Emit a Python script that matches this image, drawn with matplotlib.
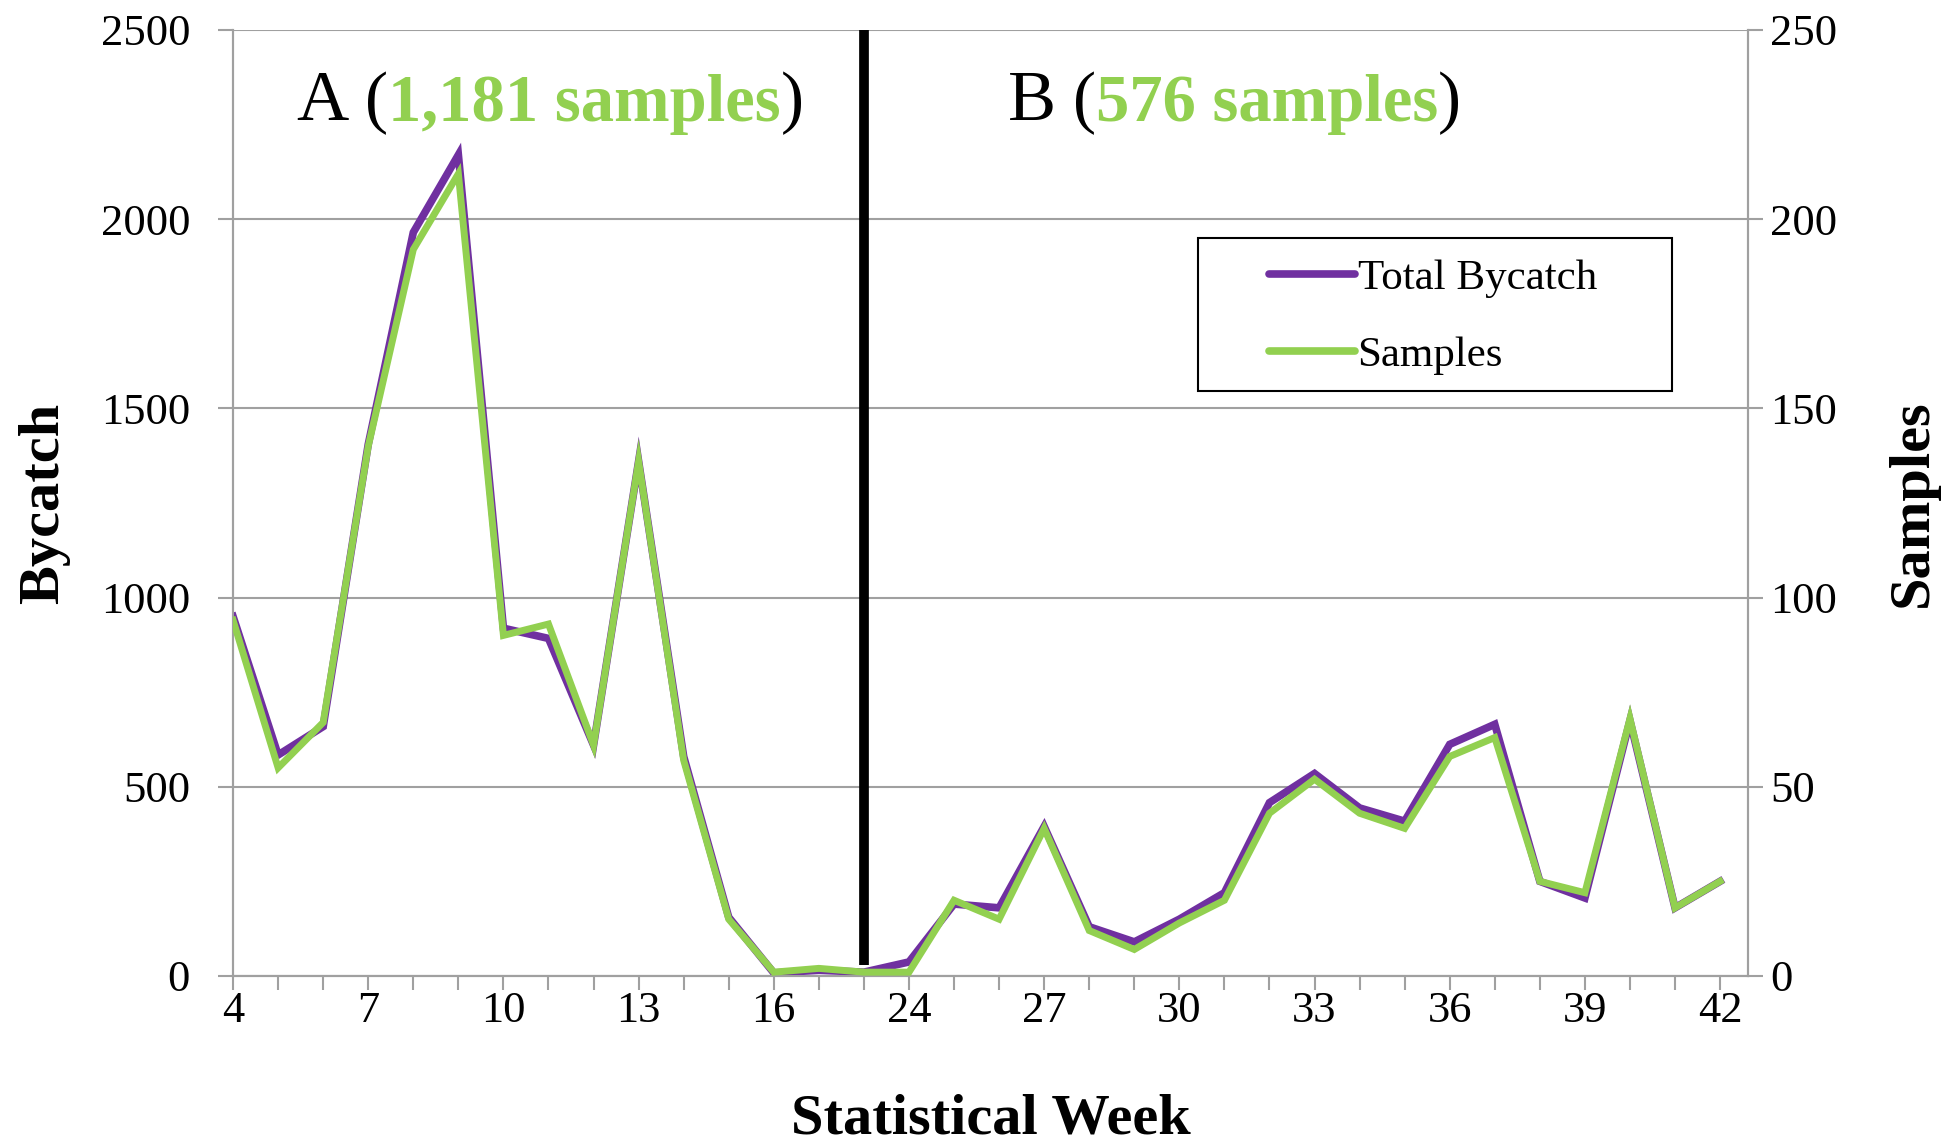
import matplotlib
matplotlib.use("Agg")
import matplotlib.pyplot as plt
from matplotlib.lines import Line2D
from matplotlib.patches import Rectangle

plt.rcParams['font.family'] = ['Liberation Serif', 'DejaVu Serif']

# datos
weeks = [4, 5, 6, 7, 8, 9, 10, 11, 12, 13, 14, 15, 16, 17, 18,
         24, 25, 26, 27, 28, 29, 30, 31, 32, 33, 34, 35, 36, 37, 38, 39, 40, 41, 42]
bycatch = [950, 584, 659, 1405, 1965, 2170, 919, 892, 610, 1360, 580, 155, 8, 15, 10,
           37, 190, 180, 395, 130, 90, 150, 220, 458, 535, 444, 409, 612, 665, 250, 206, 675, 180, 250]
samples = [94, 55, 67, 140, 192, 212, 90, 93, 61, 136, 57, 15, 1, 2, 1,
           1, 20, 15, 39, 12, 7, 14, 20, 43, 52, 43, 39, 58, 63, 25, 22, 68, 18, 25]
split_week = 18
period_labels = [("A", "1,181 samples"), ("B", "576 samples")]

PURPLE = '#7030A0'
GREEN = '#92D050'
GRID = '#A0A0A0'

fig = plt.figure(figsize=(19.52, 11.44), dpi=100)
ax = fig.add_axes([0.1194, 0.1469, 0.8955 - 0.1194, 0.9738 - 0.1469])
ax2 = ax.twinx()

x = list(range(len(weeks)))
ax.plot(x, bycatch, color=PURPLE, linewidth=5.5, solid_joinstyle='miter', zorder=3)
ax2.plot(x, samples, color=GREEN, linewidth=5, solid_joinstyle='miter', zorder=3)

ax.set_xlim(0, len(weeks) - 1 + 0.62)
ax.set_ylim(0, 2500)
ax2.set_ylim(0, 250)
ax.set_yticks(range(0, 2501, 500))
ax2.set_yticks(range(0, 251, 50))
ax.set_xticks(x)
ax.set_xticklabels([str(w) if i % 3 == 0 else "" for i, w in enumerate(weeks)])

ax.grid(axis='y', color=GRID, linewidth=1.5)
ax.set_axisbelow(True)
for a in (ax, ax2):
    a.spines['top'].set_visible(False)
    for s in ('left', 'right', 'bottom'):
        a.spines[s].set_color(GRID)
        a.spines[s].set_linewidth(1.5)
    a.tick_params(colors='black', labelsize=32, length=11, width=1.5, color=GRID)
ax.tick_params(axis='y', pad=20)
ax.tick_params(axis='x', pad=1, length=10)
ax2.tick_params(axis='y', pad=5)

ax.set_xlabel("Statistical Week", fontsize=42, fontweight='bold', labelpad=45)
ax.set_ylabel("Bycatch", fontsize=42, fontweight='bold', labelpad=22)
ax2.set_ylabel("Samples", fontsize=42, fontweight='bold', labelpad=36)

# linea de separacion entre periodos
xs = weeks.index(split_week)
ax.vlines(xs, 30, 2500, color='black', linewidth=7, zorder=4)

# etiquetas A / B con texto en dos colores
def rainbow(xpos, letter, count):
    t = ax.text(xpos, 2222, letter, fontsize=52, color='black', va='bottom')
    t = ax.annotate("(", xy=(1, 0), xycoords=t, xytext=(12, 0), textcoords='offset points',
                    fontsize=50, color='black', va='bottom')
    t = ax.annotate(count, xy=(1, 0), xycoords=t, fontsize=48, fontweight='bold',
                    color=GREEN, va='bottom')
    ax.annotate(")", xy=(1, 0), xycoords=t, fontsize=50, color='black', va='bottom')

rainbow(1.4, *period_labels[0])
rainbow(17.2, *period_labels[1])

# leyenda con marco propio
ax2.add_patch(Rectangle((0.637, 0.618), 0.313, 0.162, transform=ax2.transAxes,
                        facecolor='white', edgecolor='black', linewidth=1.5, zorder=5))
handles = [Line2D([], [], color=PURPLE, linewidth=5.5, solid_capstyle='round'),
           Line2D([], [], color=GREEN, linewidth=5.5, solid_capstyle='round')]
leg = ax2.legend(handles, ["Total Bycatch", "Samples"], loc='center left',
                 bbox_to_anchor=(0.684, 0.697), fontsize=31, frameon=False,
                 handlelength=2.0, handletextpad=0.05, borderpad=0,
                 labelspacing=0.88, borderaxespad=0)
leg.set_zorder(6)

fig.savefig("out.png", dpi=100)
